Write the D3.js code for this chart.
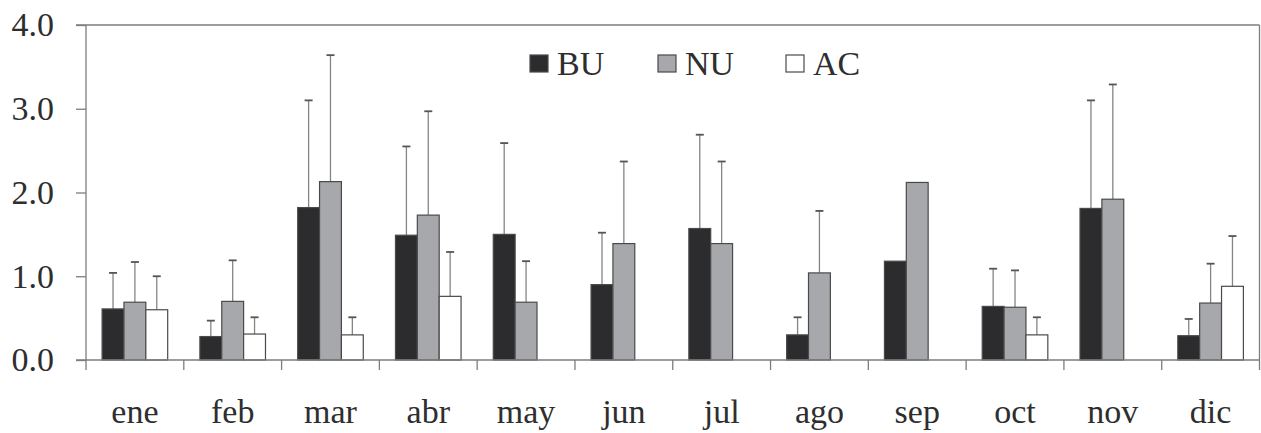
<!DOCTYPE html>
<html>
<head>
<meta charset="utf-8">
<script src="https://cdn.jsdelivr.net/npm/d3@7"></script>
<style>
  body { margin: 0; background: #fff; }
</style>
</head>
<body>
<svg id="chart" width="1261" height="433"></svg>
<script>
(function () {
    // data (mean and error above it)
    const months = ["ene", "feb", "mar", "abr", "may", "jun", "jul", "ago", "sep", "oct", "nov", "dic"];
    const series = ["BU", "NU", "AC"];
    const buMean = [0.61, 0.28, 1.82, 1.49, 1.50, 0.90, 1.57, 0.30, 1.18, 0.64, 1.81, 0.29];
    const buErr  = [0.43, 0.19, 1.28, 1.06, 1.09, 0.62, 1.12, 0.21, null, 0.45, 1.29, 0.20];
    const nuMean = [0.69, 0.70, 2.13, 1.73, 0.69, 1.39, 1.39, 1.04, 2.12, 0.63, 1.92, 0.68];
    const nuErr  = [0.48, 0.49, 1.51, 1.24, 0.49, 0.98, 0.98, 0.74, null, 0.44, 1.37, 0.47];
    const acMean = [0.60, 0.31, 0.30, 0.76, null, null, null, null, null, 0.30, null, 0.88];
    const acErr  = [0.40, 0.20, 0.21, 0.53, null, null, null, null, null, 0.21, null, 0.60];
    const yTicks = [0, 1, 2, 3, 4];

    const means = { BU: buMean, NU: nuMean, AC: acMean };
    const errs = { BU: buErr, NU: nuErr, AC: acErr };
    const fills = { BU: "#2c2b2d", NU: "#a7a8ab", AC: "#ffffff" };

    const left = 86, right = 1259.5, top = 25, bottom = 360;
    const axisColor = "#7d7d7d";
    const font = "Liberation Serif";

    const svg = d3.select("#chart");

    const x0 = d3.scaleBand().domain(months).range([left, right]);
    const groupPad = 16.1;
    const x1 = d3.scaleBand().domain(series).range([groupPad, x0.bandwidth() - groupPad]);
    const y = d3.scaleLinear().domain([0, 4]).range([bottom, top]);

    // one row per bar
    const rows = [];
    months.forEach((m, i) => {
        series.forEach(s => {
            if (means[s][i] != null) rows.push({ month: m, s: s, v: means[s][i], e: errs[s][i] });
        });
    });

    // frame (top and right)
    svg.append("line").attr("x1", left - 10).attr("x2", right).attr("y1", top).attr("y2", top)
        .attr("stroke", axisColor).attr("stroke-width", 1.3);
    svg.append("line").attr("x1", right).attr("x2", right).attr("y1", top).attr("y2", bottom + 10)
        .attr("stroke", axisColor).attr("stroke-width", 1.3);

    // error bars
    const eb = svg.append("g").selectAll("g")
        .data(rows.filter(d => d.e != null))
        .join("g")
        .attr("transform", d => `translate(${x0(d.month) + x1(d.s) + x1.bandwidth() / 2},0)`);
    eb.append("line").attr("y1", d => y(d.v)).attr("y2", d => y(d.v + d.e))
        .attr("stroke", "#858585").attr("stroke-width", 1.3);
    eb.append("line").attr("x1", -4).attr("x2", 4)
        .attr("y1", d => y(d.v + d.e)).attr("y2", d => y(d.v + d.e))
        .attr("stroke", "#555").attr("stroke-width", 1.8);

    // bars
    svg.append("g").selectAll("rect")
        .data(rows)
        .join("rect")
        .attr("x", d => x0(d.month) + x1(d.s))
        .attr("y", d => y(d.v))
        .attr("width", x1.bandwidth())
        .attr("height", d => bottom - y(d.v))
        .attr("fill", d => fills[d.s])
        .attr("stroke", "#4a4a4a")
        .attr("stroke-width", 1.2);

    // y axis
    const yAxis = svg.append("g").attr("transform", `translate(${left},0)`)
        .call(d3.axisLeft(y).tickValues(yTicks).tickFormat(d3.format(".1f")).tickSize(10).tickPadding(22))
        .attr("font-family", font).attr("font-size", 34);
    yAxis.select(".domain").attr("stroke", axisColor).attr("stroke-width", 1.3)
        .attr("d", `M0,${top}V${bottom + 10}`);
    yAxis.selectAll(".tick line").attr("stroke", axisColor).attr("stroke-width", 1.3);
    yAxis.selectAll("text").attr("fill", "#2e2e2e");

    // x axis: labels at centres, ticks at category boundaries
    const xAxis = svg.append("g").attr("transform", `translate(0,${bottom})`)
        .call(d3.axisBottom(x0).tickSize(0).tickPadding(39))
        .attr("font-family", font).attr("font-size", 34);
    xAxis.select(".domain").attr("stroke", axisColor).attr("stroke-width", 1.3)
        .attr("d", `M${left - 10},0H${right}`);
    xAxis.selectAll("text").attr("fill", "#2e2e2e");
    svg.append("g").selectAll("line")
        .data(months.slice(1))
        .join("line")
        .attr("x1", d => x0(d)).attr("x2", d => x0(d))
        .attr("y1", bottom).attr("y2", bottom + 10)
        .attr("stroke", axisColor).attr("stroke-width", 1.3);

    // legend
    const legendX = { BU: 530, NU: 658, AC: 786 };
    const lg = svg.append("g").selectAll("g").data(series).join("g")
        .attr("transform", d => `translate(${legendX[d]},55)`);
    lg.append("rect").attr("width", 18).attr("height", 17)
        .attr("fill", d => fills[d]).attr("stroke", "#4a4a4a").attr("stroke-width", 1.2);
    lg.append("text").attr("x", 27).attr("y", 20).text(d => d)
        .attr("font-family", font).attr("font-size", 34).attr("fill", "#2e2e2e");
})();
</script>
</body>
</html>
